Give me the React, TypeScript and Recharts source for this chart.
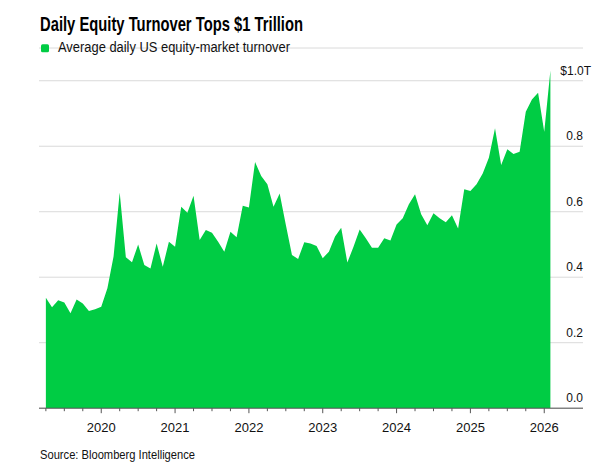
import { AreaChart, Area, XAxis, YAxis, CartesianGrid } from "recharts";

// Average daily US equity-market turnover, $ trillions, one value per month
// (month-end readings, March 2019 through January 2026)
const firstYear = 2019;
const firstMonth = 3;

const turnover = [
  0.337, 0.308, 0.33, 0.323, 0.29, 0.332, 0.32, 0.297, 0.302, 0.31,
  0.366, 0.463, 0.659, 0.461, 0.446, 0.5, 0.437, 0.427, 0.503, 0.432,
  0.508, 0.493, 0.615, 0.597, 0.649, 0.514, 0.544, 0.536, 0.508, 0.478,
  0.539, 0.522, 0.618, 0.613, 0.752, 0.709, 0.684, 0.615, 0.656, 0.56,
  0.468, 0.456, 0.507, 0.503, 0.495, 0.458, 0.478, 0.524, 0.551, 0.445,
  0.493, 0.546, 0.519, 0.49, 0.49, 0.519, 0.512, 0.561, 0.58, 0.623,
  0.653, 0.592, 0.559, 0.595, 0.58, 0.568, 0.589, 0.549, 0.669, 0.663,
  0.684, 0.717, 0.765, 0.855, 0.743, 0.791, 0.776, 0.783, 0.905, 0.943,
  0.963, 0.844, 1.031,
];

const yearLabels = ["2020", "2021", "2022", "2023", "2024", "2025", "2026"];
const yTicks = [0, 0.2, 0.4, 0.6, 0.8, 1.0];
const yTickLabels = ["0.0", "0.2", "0.4", "0.6", "0.8", "$1.0T"];

const GREEN = "#00cc44";
const FONT = "'Liberation Sans', Arial, Helvetica, sans-serif";
const NARROW = "'Liberation Sans Narrow', 'Liberation Sans', Arial, sans-serif";

const data = turnover.map((value, i) => {
  const m = firstMonth - 1 + i;
  const year = firstYear + Math.floor(m / 12);
  const month = (m % 12) + 1;
  return {
    date: `${year}-${String(month).padStart(2, "0")}`,
    t: year + month / 12,
    value,
  };
});

// quarterly ticks, year labels sit on the January marks
const xTicks: number[] = [];
for (let q = firstYear + firstMonth / 12; q <= Number(yearLabels[yearLabels.length - 1]) + 0.001; q += 0.25) {
  xTicks.push(Math.round(q * 100) / 100);
}

function XTick(props: any) {
  const { x, y, payload } = props;
  const v = payload.value;
  const isYear = yearLabels.includes(String(v));
  return (
    <g>
      <line x1={x} x2={x} y1={y} y2={y + (isYear ? 5 : 3)} stroke="#555" strokeWidth={1} />
      {isYear && (
        <text x={x} y={y + 23.5} textAnchor="middle" fontSize={13} fill="#111" fontFamily={FONT}>
          {String(v)}
        </text>
      )}
    </g>
  );
}

function YTick(props: any) {
  const { y, payload, plotRight } = props;
  const idx = yTicks.indexOf(payload.value);
  const isTop = idx === yTicks.length - 1;
  return (
    <text x={isTop ? plotRight + 8 : plotRight} y={y - 6} textAnchor="end" fontSize={12} fill="#111" fontFamily={FONT}>
      {yTickLabels[idx]}
    </text>
  );
}

const W = 609;
const H = 468;
const margin = { top: 48, right: 0, bottom: 29.8, left: 39 };
const yAxisWidth = 26;
const plotRight = W - margin.right - yAxisWidth;

export default function App() {
  return (
    <div style={{ position: "absolute", left: 0, top: 0, width: W, height: H, background: "#fff" }}>
      <AreaChart width={W} height={H} data={data} margin={margin}>
        <CartesianGrid vertical={false} stroke="#dadada" strokeWidth={1} />
        <XAxis
          dataKey="t"
          type="number"
          domain={[2019.157, 2026.525]}
          ticks={xTicks}
          interval={0}
          tickSize={0}
          tickMargin={0}
          tickLine={false}
          axisLine={{ stroke: "#555", strokeWidth: 1 }}
          tick={(p: any) => <XTick {...p} />}
          height={30}
          allowDataOverflow
        />
        <YAxis
          orientation="right"
          type="number"
          domain={[0, 1.1]}
          ticks={yTicks}
          interval={0}
          width={yAxisWidth}
          tickSize={0}
          tickMargin={0}
          tickLine={false}
          axisLine={false}
          tick={(p: any) => <YTick {...p} plotRight={plotRight} />}
          allowDataOverflow
        />
        <Area
          type="linear"
          dataKey="value"
          stroke="none"
          fill={GREEN}
          fillOpacity={1}
          baseValue={0}
          dot={false}
          activeDot={false}
          isAnimationActive={false}
        />
      </AreaChart>
      <svg
        width={W}
        height={H}
        style={{ position: "absolute", left: 0, top: 0, pointerEvents: "none" }}
      >
        <text
          x={40}
          y={31}
          fontSize={21}
          fontWeight="bold"
          fill="#000"
          fontFamily={FONT}
          textLength={263}
          lengthAdjust="spacingAndGlyphs"
        >
          Daily Equity Turnover Tops $1 Trillion
        </text>
        <rect x={41} y={44.3} width={8} height={8} rx={1.5} fill={GREEN} />
        <text
          x={58}
          y={52.3}
          fontSize={14}
          fill="#111"
          fontFamily={NARROW}
          textLength={232}
          lengthAdjust="spacingAndGlyphs"
        >
          Average daily US equity-market turnover
        </text>
        <text
          x={40}
          y={459}
          fontSize={12}
          fill="#111"
          fontFamily={NARROW}
          textLength={155}
          lengthAdjust="spacingAndGlyphs"
        >
          Source: Bloomberg Intelligence
        </text>
      </svg>
    </div>
  );
}
